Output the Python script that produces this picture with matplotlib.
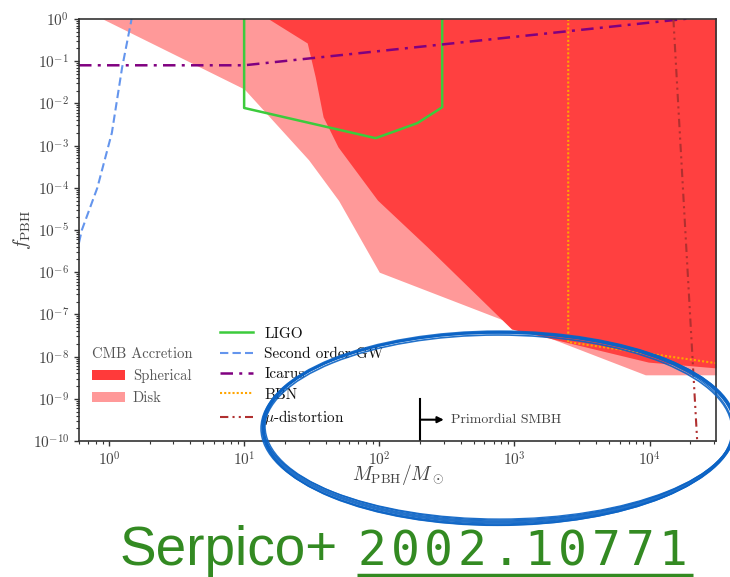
import numpy as np
import matplotlib
matplotlib.use("Agg")
import matplotlib.pyplot as plt
from matplotlib.patches import Ellipse, Patch
from matplotlib.ticker import LogLocator, NullFormatter

plt.rcParams['font.family'] = ['cmr10', 'DejaVu Serif']
plt.rcParams['mathtext.fontset'] = 'cm'
plt.rcParams['axes.formatter.use_mathtext'] = True
plt.rcParams['axes.unicode_minus'] = True

# ---------------- data ----------------
disk_m = [0.9, 10, 30, 50, 100, 9.3e3, 3.1e4]
disk_f = [1.0, 2.2e-2, 4.6e-4, 5.0e-5, 1.0e-6, 3.7e-9, 3.7e-9]

sph_m = [15.2, 29.3, 33.6, 38.4, 49.5, 97, 226, 952, 9.8e3, 3.1e4]
sph_f = [1.0, 0.27, 4.2e-2, 4.8e-3, 9.3e-4, 5.1e-5, 4.0e-6, 4.5e-8, 7.4e-9, 5.4e-9]

ligo_m = [10, 10, 94, 191, 292, 292]
ligo_f = [1.0, 7.8e-3, 1.5e-3, 3.4e-3, 8.1e-3, 1.0]

sogw_m = [0.6, 0.63, 0.82, 1.05, 1.25, 1.47]
sogw_f = [5.0e-6, 1.0e-5, 1.0e-4, 2.0e-3, 7.0e-2, 1.0]

icarus_m = [0.6, 10, 1.8e4, 3.1e4]
icarus_f = [8.0e-2, 8.0e-2, 1.0, 1.25]

bbn_m = [2.5e3, 2.5e3, 3.1e4]
bbn_f = [1.0, 2.2e-8, 7.0e-9]

mu_m = [1.5e4, 2.25e4]
mu_f = [1.0, 1.0e-10]

smbh_m = 200
smbh_arrow_end = 300
smbh_text_m = 340
smbh_f_top = 1.0e-9
smbh_f_arrow = 3.2e-10

legend_fill_labels = ['Spherical', 'Disk']
legend_line_labels = ['LIGO', 'Second order GW', 'Icarus', 'BBN', r'$\mu$-distortion']
ref_author = 'Serpico+'
ref_arxiv = '2002.10771'

xlim = (0.6, 3.1e4)
ylim = (1e-10, 1.0)

# ---------------- figure ----------------
W, H = 730, 577
fig = plt.figure(figsize=(W / 100, H / 100), dpi=100)
ax = fig.add_axes([79 / W, 1 - 441 / H, (716 - 79) / W, (441 - 19) / H])

ax.set_xscale('log')
ax.set_yscale('log')
ax.set_xlim(*xlim)
ax.set_ylim(*ylim)

disk_col = '#ff9999'
sph_col = '#ff4040'
ax.fill_between(disk_m, disk_f, 1.0, color=disk_col, lw=0, zorder=1)
ax.fill_between(sph_m, sph_f, 1.0, color=sph_col, lw=0, zorder=2)

l_ligo, = ax.plot(ligo_m, ligo_f, color='#3ccb3c', lw=1.8, zorder=4)
l_sogw, = ax.plot(sogw_m, sogw_f, color='cornflowerblue', lw=1.5, ls=(0, (4, 2)), zorder=4)
l_ic, = ax.plot(icarus_m, icarus_f, color='purple', lw=1.8, ls=(0, (5, 2.5, 1.2, 2.5)), zorder=4)
l_bbn, = ax.plot(bbn_m, bbn_f, color='orange', lw=1.5, ls=(0, (1, 1)), zorder=4)
l_mu, = ax.plot(mu_m, mu_f, color='#b03030', lw=1.5, ls=(0, (4, 2, 1, 2, 1, 2)), zorder=4)

# Primordial SMBH marker
ax.plot([smbh_m, smbh_m], [ylim[0], smbh_f_top], color='black', lw=1.5, zorder=5)
ax.annotate('', xy=(smbh_arrow_end, smbh_f_arrow), xytext=(smbh_m, smbh_f_arrow),
            arrowprops=dict(arrowstyle='-|>', color='black', lw=1.5, mutation_scale=9,
                            shrinkA=0, shrinkB=0), zorder=5)
ax.text(smbh_text_m, smbh_f_arrow, 'Primordial SMBH', fontsize=10, color='#444444',
        va='center', ha='left')

# ticks
ax.yaxis.set_major_locator(LogLocator(base=10, numticks=20))
ax.yaxis.set_minor_locator(LogLocator(base=10, subs=np.arange(2, 10), numticks=100))
ax.yaxis.set_minor_formatter(NullFormatter())
ax.xaxis.set_major_locator(LogLocator(base=10, numticks=20))
ax.xaxis.set_minor_locator(LogLocator(base=10, subs=np.arange(2, 10), numticks=100))
ax.xaxis.set_minor_formatter(NullFormatter())
ax.tick_params(which='major', length=3.5, width=1.0, labelsize=11, labelcolor='#444444',
               color='#333333', direction='out')
ax.tick_params(which='minor', length=2, width=0.8, color='#333333', direction='out')
for s in ax.spines.values():
    s.set_color('#333333')
    s.set_linewidth(1.2)
    s.set_zorder(6)

ax.set_xlabel(r'$M_{\rm PBH}/M_\odot$', fontsize=14, color='#444444')
ax.set_ylabel(r'$f_{\rm PBH}$', fontsize=14, color='#444444')
ax.xaxis.set_label_coords(0.5, -0.050)
ax.yaxis.set_label_coords(-0.072, 0.5)

# legends
h1 = [Patch(color='#ff3a3a', lw=0), Patch(color=disk_col, lw=0)]
leg1 = ax.legend(h1, legend_fill_labels, title='CMB Accretion', loc='upper left',
                 bbox_to_anchor=(92 / W, 1 - 347 / H), bbox_transform=fig.transFigure,
                 frameon=False, fontsize=10.5, title_fontsize=10.5, borderpad=0, borderaxespad=0,
                 handlelength=2.25, handleheight=0.7, handletextpad=0.55, labelspacing=0.57,
                 alignment='left')
for t in leg1.get_texts():
    t.set_color('#555555')
leg1.get_title().set_color('#555555')
ax.add_artist(leg1)

leg2 = ax.legend([l_ligo, l_sogw, l_ic, l_bbn, l_mu], legend_line_labels,
                 loc='upper left', bbox_to_anchor=(220 / W, 1 - 327 / H),
                 bbox_transform=fig.transFigure, frameon=False, fontsize=11,
                 borderpad=0, borderaxespad=0, handlelength=2.15, handletextpad=0.75,
                 labelspacing=0.43)
for t in leg2.get_texts():
    t.set_color('#111111')

# ---------------- slide overlay ----------------
ov = fig.add_axes([0, 0, 1, 1], zorder=10)
ov.set_xlim(0, W)
ov.set_ylim(H, 0)
ov.axis('off')
ov.patch.set_alpha(0)

blue = '#0b63c5'
strokes = [(499, 427, 472, 190, 2.4), (500, 426, 470, 188, 1.1), (498, 428.5, 474, 191, 1.1),
           (499.5, 425.5, 473, 187, 0.9), (497.5, 429, 470, 193, 0.9), (498, 430, 468, 190, 1.2)]
for cx, cy, w, h, lw in strokes:
    ov.add_patch(Ellipse((cx, cy), w, h, fill=False, ec=blue, lw=lw, alpha=0.9))

green = '#338a22'
ov.text(120, 565, ref_author, fontsize=39.5, color=green, family='Liberation Sans',
        ha='left', va='baseline')
adv = 33.5
x0 = 355
for i, ch in enumerate(ref_arxiv):
    ov.text(x0 + adv * i + adv / 2, 565, ch, fontsize=34.5, color=green,
            family='DejaVu Sans Mono', ha='center', va='baseline')
ov.plot([357, 693], [575, 575], color=green, lw=2.5, solid_capstyle='butt')

fig.savefig('out.png', dpi=100)
